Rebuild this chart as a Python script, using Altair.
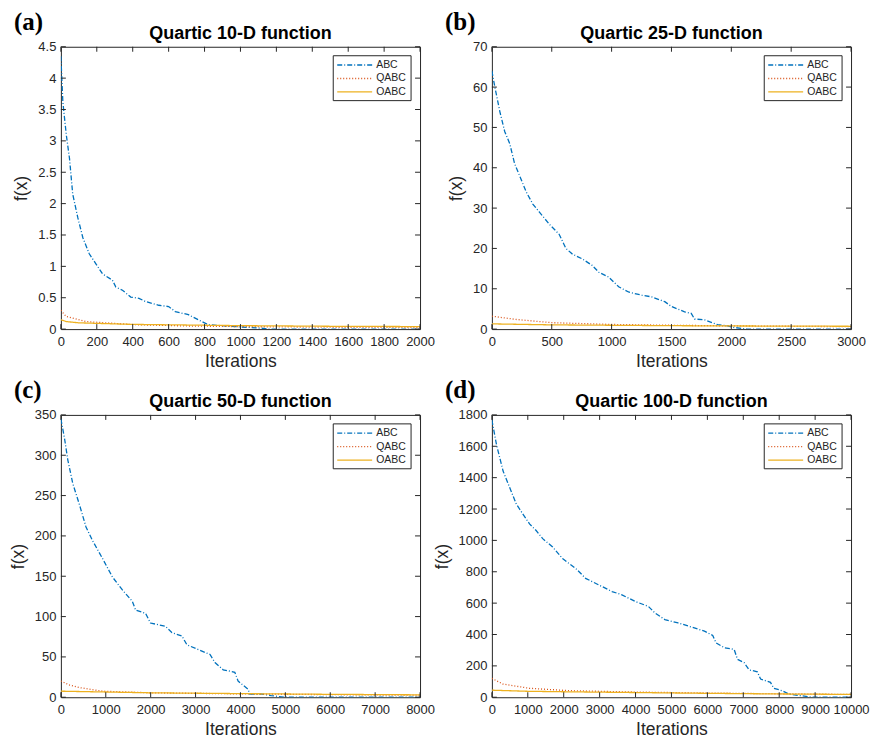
import altair as alt
import pandas as pd

SERIES = ["ABC", "QABC", "OABC"]
COLORS = ["#0072BD", "#D95319", "#EDB120"]
DASHES = [[5, 2, 1, 2], [1, 2], [1, 0]]

# ---------------- Panel (a): Quartic 10-D ----------------
a_abc_x = [0, 11, 30, 48, 66, 94, 122, 158, 195, 232, 287, 306, 343, 389, 435, 471, 545, 600, 637, 710, 785, 821, 969, 1116, 1153, 2000]
a_abc_y = [4.35, 3.62, 3.1, 2.72, 2.15, 1.78, 1.46, 1.2, 1.04, 0.88, 0.78, 0.67, 0.62, 0.51, 0.49, 0.44, 0.38, 0.36, 0.28, 0.23, 0.12, 0.07, 0.04, 0.015, 0.0, 0.0]
a_qabc_x = [0, 30, 140, 416, 700, 1000, 1500, 2000]
a_qabc_y = [0.30, 0.20, 0.12, 0.07, 0.05, 0.04, 0.03, 0.025]
a_oabc_x = [0, 30, 100, 400, 1000, 1500, 2000]
a_oabc_y = [0.15, 0.12, 0.10, 0.075, 0.055, 0.045, 0.04]
a_xticks = [0, 200, 400, 600, 800, 1000, 1200, 1400, 1600, 1800, 2000]
a_yticks = [0, 0.5, 1, 1.5, 2, 2.5, 3, 3.5, 4, 4.5]

# ---------------- Panel (b): Quartic 25-D ----------------
b_abc_x = [0, 25, 66, 107, 149, 190, 232, 287, 342, 397, 480, 562, 618, 673, 755, 838, 893, 976, 1059, 1141, 1252, 1334, 1444, 1500, 1610, 1665, 1693, 1776, 1886, 1969, 2024, 2134, 3000]
b_abc_y = [64, 60, 54, 49, 46, 41, 38, 34, 31, 29, 26, 23.5, 20, 18.6, 17.4, 15.8, 14.1, 12.9, 10.5, 9.2, 8.4, 8.0, 6.8, 5.6, 4.3, 3.9, 2.5, 2.3, 1.1, 0.8, 0.4, 0.0, 0.0]
b_qabc_x = [0, 200, 500, 1000, 1500, 2000, 2500, 3000]
b_qabc_y = [3.2, 2.4, 1.6, 1.15, 0.95, 0.8, 0.7, 0.6]
b_oabc_x = [0, 500, 1000, 1500, 2000, 3000]
b_oabc_y = [1.3, 1.05, 0.95, 0.85, 0.78, 0.7]
b_xticks = [0, 500, 1000, 1500, 2000, 2500, 3000]
b_yticks = [0, 10, 20, 30, 40, 50, 60, 70]

# ---------------- Panel (c): Quartic 50-D ----------------
c_abc_x = [0, 81, 155, 265, 412, 560, 707, 928, 1149, 1370, 1591, 1665, 1886, 1996, 2328, 2475, 2696, 2807, 3064, 3322, 3432, 3616, 3874, 3948, 4169, 4206, 4464, 4685, 4980, 8000]
c_abc_y = [345, 321, 294, 265, 239, 211, 194, 172, 149, 133, 119, 108, 104, 92, 88, 80, 76, 65, 59, 53, 43, 34, 31, 20, 10, 4, 4, 2, 0, 0]
c_qabc_x = [0, 200, 412, 928, 2000, 3000, 4000, 6000, 8000]
c_qabc_y = [20, 15, 12, 7.5, 5.5, 4.8, 4.2, 3.2, 2.5]
c_oabc_x = [0, 1000, 2000, 4000, 6000, 8000]
c_oabc_y = [7.5, 6.5, 5.5, 4.5, 3.6, 3.0]
c_xticks = [0, 1000, 2000, 3000, 4000, 5000, 6000, 7000, 8000]
c_yticks = [0, 50, 100, 150, 200, 250, 300, 350]

# ---------------- Panel (d): Quartic 100-D ----------------
d_abc_x = [0, 129, 312, 496, 680, 864, 1048, 1232, 1415, 1691, 1967, 2335, 2610, 2978, 3346, 3621, 3989, 4357, 4540, 4816, 5184, 5551, 5919, 6149, 6241, 6471, 6746, 6838, 7022, 7160, 7390, 7482, 7757, 7849, 8079, 8263, 8585, 8952, 10000]
d_abc_y = [1768, 1610, 1442, 1337, 1232, 1168, 1105, 1063, 1011, 958, 884, 821, 758, 716, 674, 653, 611, 579, 537, 495, 474, 448, 421, 394, 347, 316, 305, 242, 221, 175, 162, 116, 95, 57, 42, 21, 10, 0, 0]
d_qabc_x = [0, 312, 1048, 2151, 4000, 6000, 8000, 10000]
d_qabc_y = [120, 84, 57, 42, 33, 27, 22, 18]
d_oabc_x = [0, 1000, 2000, 4000, 6000, 8000, 10000]
d_oabc_y = [45, 38, 35, 30, 25, 21, 18]
d_xticks = [0, 1000, 2000, 3000, 4000, 5000, 6000, 7000, 8000, 9000, 10000]
d_yticks = [0, 200, 400, 600, 800, 1000, 1200, 1400, 1600, 1800]

W, H = 360, 283
FONT = "Liberation Sans"
AX = "#262626"
TL = 5  # inward tick length
NUMFMT = ".6~g"


def panel(label, title, series_xy, xticks, yticks):
    rows = []
    for name, (xs, ys) in zip(SERIES, series_xy):
        for xv, yv in zip(xs, ys):
            rows.append({"series": name, "iter": xv, "value": yv})
    df = pd.DataFrame(rows)
    xsc = alt.Scale(domain=[xticks[0], xticks[-1]], nice=False, zero=False)
    ysc = alt.Scale(domain=[yticks[0], yticks[-1]], nice=False, zero=False)
    xaxis = alt.Axis(values=xticks, format=NUMFMT, ticks=False, grid=False, domain=False, labelFont=FONT,
                     labelFontSize=13, labelColor=AX, labelPadding=6, labelFlush=False,
                     title="Iterations", titleFont=FONT, titleFontSize=17.5,
                     titleFontWeight="normal", titleColor=AX, titlePadding=4)
    yaxis = alt.Axis(values=yticks, format=NUMFMT, ticks=False, grid=False, domain=False, labelFont=FONT,
                     labelFontSize=13, labelColor=AX, labelPadding=5, labelFlush=False,
                     title="f(x)", titleFont=FONT, titleFontSize=17.5,
                     titleFontWeight="normal", titleColor=AX, titlePadding=7)
    cscale = alt.Scale(domain=SERIES, range=COLORS)
    dscale = alt.Scale(domain=SERIES, range=DASHES)
    lines = alt.Chart(df).mark_line(strokeWidth=1.3, clip=True).encode(
        x=alt.X("iter:Q", scale=xsc, axis=xaxis),
        y=alt.Y("value:Q", scale=ysc, axis=yaxis),
        color=alt.Color("series:N", scale=cscale, legend=None),
        strokeDash=alt.StrokeDash("series:N", scale=dscale, legend=None),
        detail="series:N",
    )
    xt = pd.DataFrame({"iter": xticks})
    yt = pd.DataFrame({"value": yticks})
    bx = alt.X("iter:Q", scale=xsc, axis=xaxis)
    by = alt.Y("value:Q", scale=ysc, axis=yaxis)
    tick_b = alt.Chart(xt).mark_rule(color=AX, strokeWidth=1).encode(x=bx, y=alt.value(H), y2=alt.value(H - TL))
    tick_t = alt.Chart(xt).mark_rule(color=AX, strokeWidth=1).encode(x=bx, y=alt.value(0), y2=alt.value(TL))
    tick_l = alt.Chart(yt).mark_rule(color=AX, strokeWidth=1).encode(y=by, x=alt.value(0), x2=alt.value(TL))
    tick_r = alt.Chart(yt).mark_rule(color=AX, strokeWidth=1).encode(y=by, x=alt.value(W), x2=alt.value(W - TL))

    # legend box (MATLAB-style, inside top-right)
    one = pd.DataFrame({"k": [0]})
    box = alt.Chart(one).mark_rect(fill="white", stroke=AX, strokeWidth=1).encode(
        x=alt.value(W - 87), x2=alt.value(W - 9), y=alt.value(9), y2=alt.value(54))
    leg_layers = [box]
    for i, name in enumerate(SERIES):
        yy = 18.3 + 13.5 * i
        ldf = pd.DataFrame({"series": [name]})
        leg_layers.append(alt.Chart(ldf).mark_rule(strokeWidth=1.3).encode(
            x=alt.value(W - 83), x2=alt.value(W - 48), y=alt.value(yy),
            color=alt.Color("series:N", scale=cscale, legend=None),
            strokeDash=alt.StrokeDash("series:N", scale=dscale, legend=None)))
        leg_layers.append(alt.Chart(ldf).mark_text(font=FONT, fontSize=10.5, color=AX, align="left",
                                                   baseline="middle").encode(
            x=alt.value(W - 44), y=alt.value(yy), text="series:N"))

    lab = alt.Chart(pd.DataFrame({"lab": [label]})).mark_text(
        font="Liberation Serif", fontWeight="bold", fontSize=25, align="left", baseline="middle", color="black"
    ).encode(x=alt.value(-47), y=alt.value(-25), text="lab:N")
    ttl = alt.Chart(pd.DataFrame({"t": [title]})).mark_text(
        font=FONT, fontWeight="bold", fontSize=18, align="center", baseline="alphabetic", color="black"
    ).encode(x=alt.value(W / 2), y=alt.value(-8), text="t:N")
    return alt.layer(lines, tick_b, tick_t, tick_l, tick_r, *leg_layers, lab, ttl).properties(
        width=W, height=H)


pa = panel("(a)", "Quartic 10-D function",
           [(a_abc_x, a_abc_y), (a_qabc_x, a_qabc_y), (a_oabc_x, a_oabc_y)], a_xticks, a_yticks)
pb = panel("(b)", "Quartic 25-D function",
           [(b_abc_x, b_abc_y), (b_qabc_x, b_qabc_y), (b_oabc_x, b_oabc_y)], b_xticks, b_yticks)
pc = panel("(c)", "Quartic 50-D function",
           [(c_abc_x, c_abc_y), (c_qabc_x, c_qabc_y), (c_oabc_x, c_oabc_y)], c_xticks, c_yticks)
pd_ = panel("(d)", "Quartic 100-D function",
            [(d_abc_x, d_abc_y), (d_qabc_x, d_qabc_y), (d_oabc_x, d_oabc_y)], d_xticks, d_yticks)

chart = alt.concat(pa, pb, pc, pd_, columns=2, spacing={"row": 86, "column": 72}, bounds="flush").resolve_scale(
    x="independent", y="independent", color="independent", strokeDash="independent"
).properties(
    padding={"left": 0, "top": 0, "right": 0, "bottom": 0}
).configure_view(stroke=AX, strokeWidth=1)

chart.save("out.html", embed_options={"renderer": "svg", "actions": False})
